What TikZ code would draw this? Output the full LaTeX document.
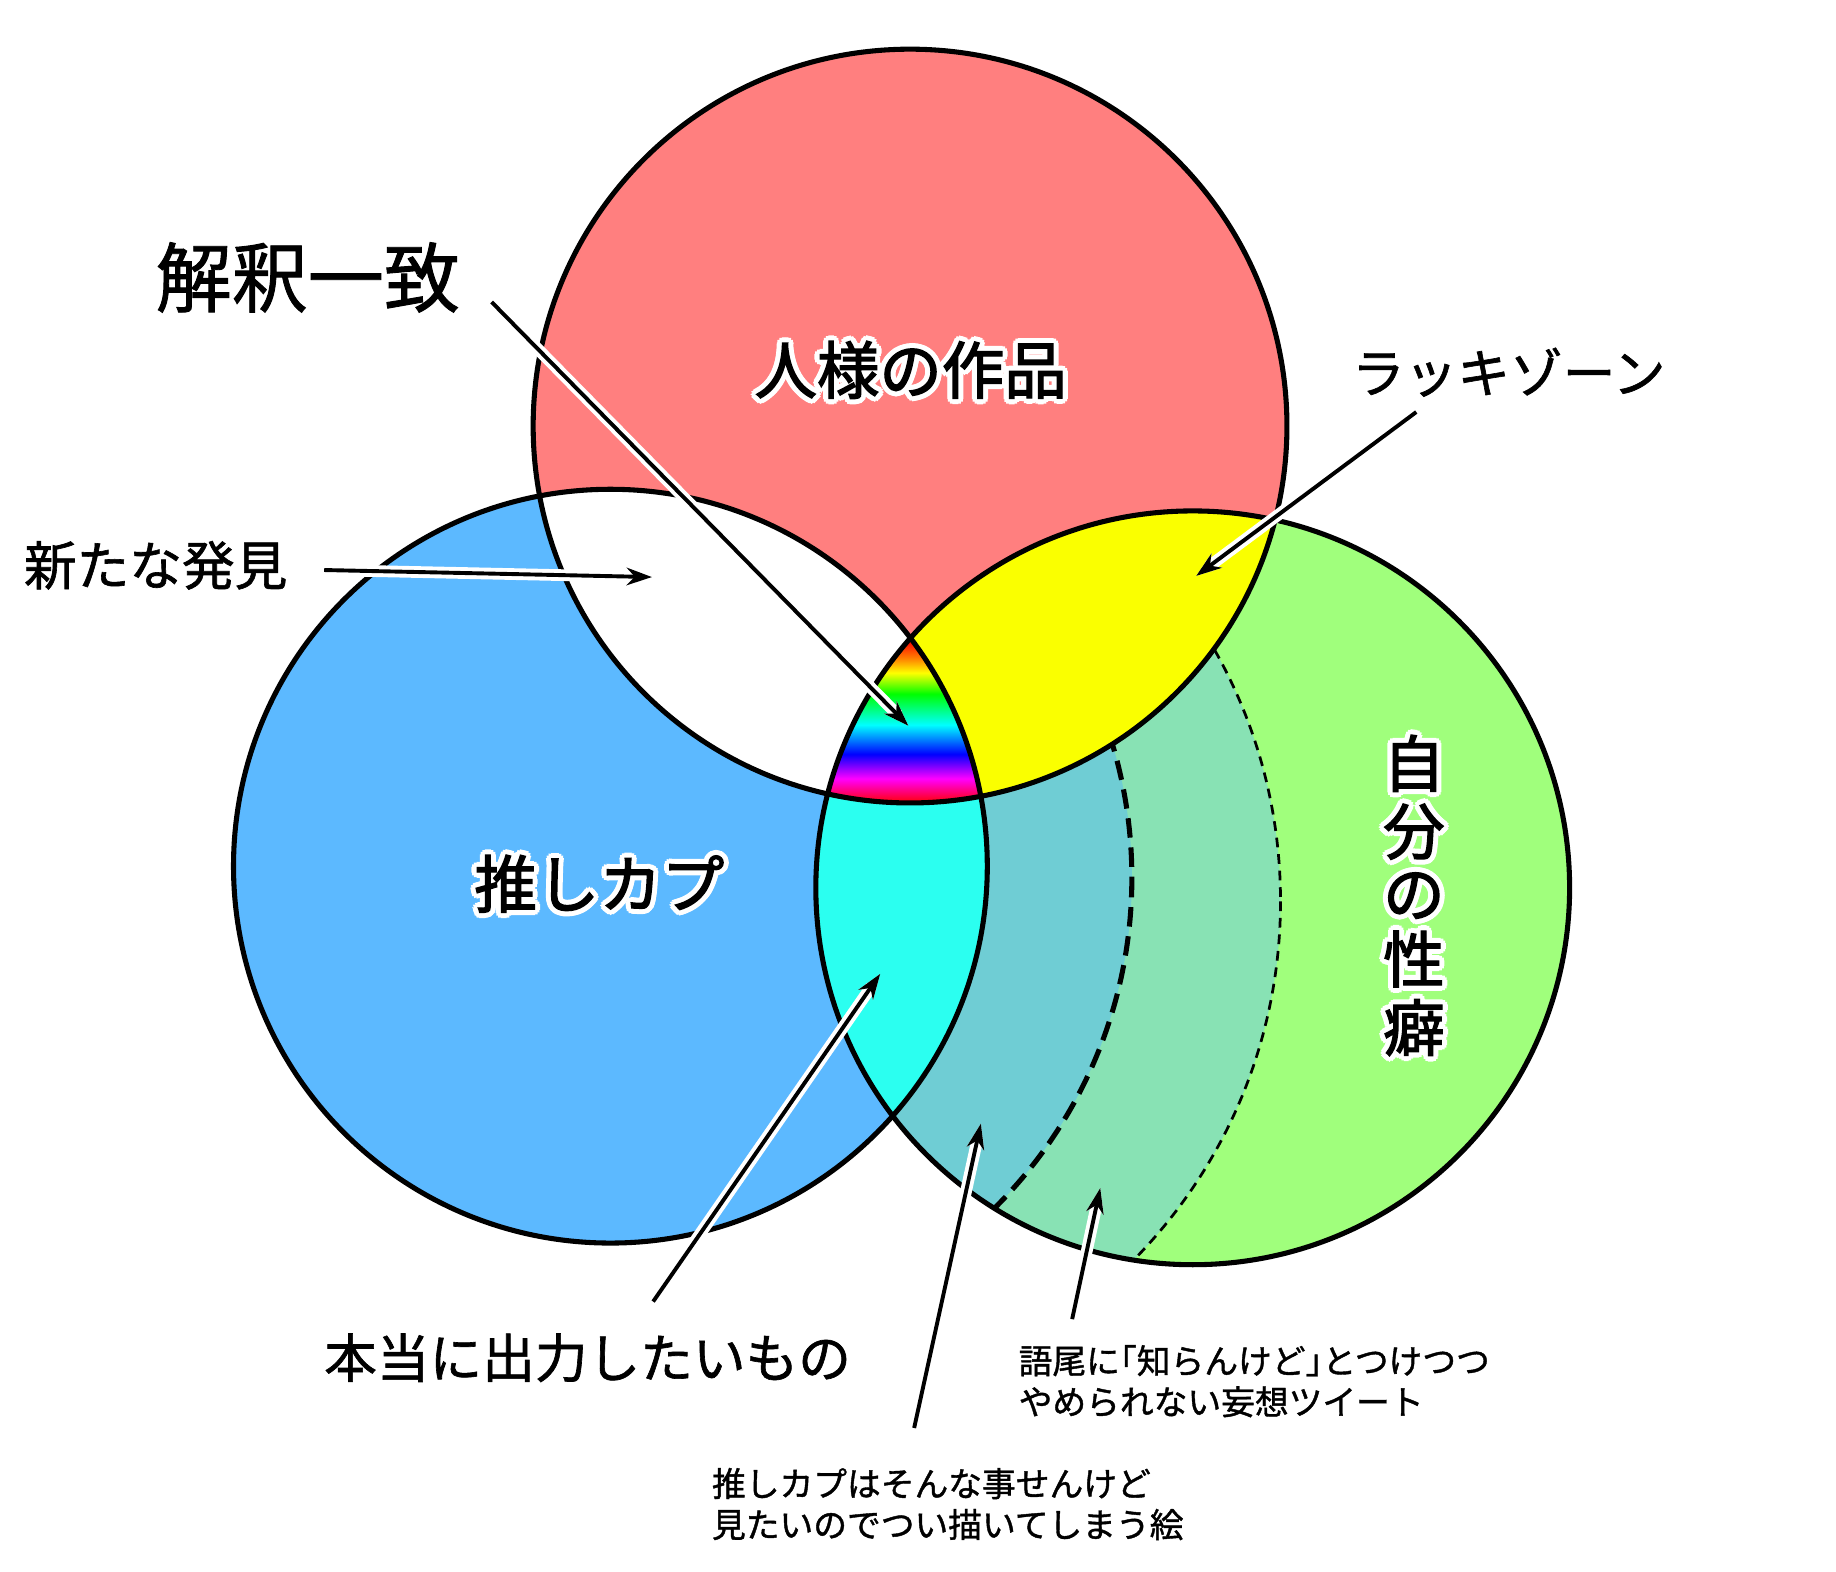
\documentclass[tikz,border=0pt]{standalone}
\usepackage{fontspec}
\setmainfont{Noto Sans CJK JP}
\newfontfamily\jpmed{Noto Sans CJK JP}[FakeBold=1.2]
\newfontfamily\jpheavy{Noto Sans CJK JP}[FakeBold=2.2]
\usetikzlibrary{arrows.meta}

\definecolor{hitocol}{HTML}{FF7F7F}
\definecolor{oshicol}{HTML}{5CB9FF}
\definecolor{jibuncol}{HTML}{A0FF7C}
\definecolor{luckycol}{HTML}{FAFF00}
\definecolor{hontocol}{HTML}{2BFFF0}
\definecolor{egakucol}{HTML}{6FCDD4}
\definecolor{tweetcol}{HTML}{88E2B4}

\pgfdeclareverticalshading{rainbow}{100bp}{color(0bp)=(red); color(25bp)=(red); color(32.5bp)=(magenta); color(40bp)=(blue); color(49bp)=(cyan); color(58.5bp)=(green); color(65bp)=(yellow); color(69.5bp)=(orange); color(75bp)=(red); color(100bp)=(red)}

% white outline round a text
\newcommand{\halo}[1]{\foreach \a in {0,30,...,330}{\pgfmathsetlengthmacro\hx{2.6pt*cos(\a)}\pgfmathsetlengthmacro\hy{2.6pt*sin(\a)}\rlap{\hspace*{\hx}\raisebox{\hy}{\color{white}#1}}}#1}
% half width brackets
\newcommand{\lkak}{\makebox[0.5em][r]{「}}
\newcommand{\rkak}{\makebox[0.5em][l]{」}}

\tikzstyle{every node}=[inner sep=0pt]
\tikzstyle{rim}=[line width=2.6pt]
\tikzstyle{bigdash}=[line width=2.6pt,dash pattern=on 10pt off 5pt]
\tikzstyle{smalldash}=[line width=1.4pt,dash pattern=on 5pt off 3.5pt]
\tikzstyle{pointer}=[line width=2pt,-{Stealth[length=13pt,width=9pt]},preaction={draw=white,line width=6pt}]
\tikzstyle{hugelabel}=[font=\jpmed\fontsize{39pt}{39pt}\selectfont]
\tikzstyle{setlabel}=[font=\jpheavy\fontsize{32pt}{32.5pt}\selectfont]
\tikzstyle{midlabel}=[font=\jpmed\fontsize{27pt}{27pt}\selectfont]
\tikzstyle{smalllabel}=[font=\jpmed\fontsize{17.3pt}{21pt}\selectfont,align=left,anchor=west]

\begin{document}
\begin{tikzpicture}[x=0.6pt,y=-0.6pt]
\useasboundingbox (0,0) rectangle (1568.6,1343);
\coordinate (hito) at (777.5,364);
\coordinate (oshi) at (521.5,740);
\coordinate (jibun) at (1019,758.5);
\coordinate (innerc) at (569,750);
\coordinate (outerc) at (657,770);

% green set and its bands
\fill[jibuncol] (jibun) circle[radius=322];
\begin{scope}
\clip (jibun) circle[radius=322];
\fill[tweetcol] (outerc) circle[radius=437];
\fill[egakucol] (innerc) circle[radius=398];
\draw[smalldash] (outerc) circle[radius=437];
\draw[bigdash] (innerc) circle[radius=398];
\end{scope}

\fill[oshicol] (oshi) circle[radius=322];
\fill[hitocol] (hito) circle[radius=322];

% overlaps
\begin{scope}
\clip (oshi) circle[radius=322];
\fill[hontocol] (jibun) circle[radius=322];
\end{scope}
\begin{scope}
\clip (hito) circle[radius=322];
\fill[white] (oshi) circle[radius=322];
\fill[luckycol] (jibun) circle[radius=322];
\end{scope}
\begin{scope}
\clip (hito) circle[radius=322];
\clip (oshi) circle[radius=322];
\clip (jibun) circle[radius=322];
\shade[shading=rainbow] (690,547) rectangle (860,686);
\end{scope}

\draw[rim] (hito) circle[radius=322];
\draw[rim] (oshi) circle[radius=322];
\draw[rim] (jibun) circle[radius=322];

% labels
\node[hugelabel] (kaishaku) at (263,237) {解釈一致};
\node[setlabel] (hitosama) at (778,316) {\halo{人様の作品}};
\node[midlabel] (lucky) at (1289,318) {ラッキゾーン};
\node[midlabel] (hakken) at (133,483) {新たな発見};
\node[setlabel] (oshikapu) at (512,755) {\halo{推しカプ}};
\node[setlabel,font=\jpheavy\fontsize{31.5pt}{32pt}\selectfont,align=center] (seiheki) at (1208,765) {\halo{自}\\\halo{分}\\\halo{の}\\\halo{性}\\\halo{癖}};
\node[midlabel] (honto) at (502,1160) {本当に出力したいもの};
\node[smalllabel] (tweet) at (870,1180) {語尾に\lkak 知らんけど\rkak とつけつつ\\やめられない妄想ツイート};
\node[smalllabel] (egaku) at (608,1285) {推しカプはそんな事せんけど\\見たいのでつい描いてしまう絵};

% arrows
\coordinate (kaishaku-tail) at (420,258);
\coordinate (kaishaku-head) at (776,620);
\coordinate (hakken-tail) at (277,487);
\coordinate (hakken-head) at (557,493);
\coordinate (lucky-tail) at (1210,352);
\coordinate (lucky-head) at (1022,492);
\coordinate (honto-tail) at (558,1112);
\coordinate (honto-head) at (752,832);
\coordinate (egaku-tail) at (781,1220);
\coordinate (egaku-head) at (838,960);
\coordinate (tweet-tail) at (916,1127);
\coordinate (tweet-head) at (940,1015);
\draw[pointer] (kaishaku-tail) -- (kaishaku-head);
\draw[pointer] (hakken-tail) -- (hakken-head);
\draw[pointer] (lucky-tail) -- (lucky-head);
\draw[pointer] (honto-tail) -- (honto-head);
\draw[pointer] (egaku-tail) -- (egaku-head);
\draw[pointer] (tweet-tail) -- (tweet-head);
\end{tikzpicture}
\end{document}
